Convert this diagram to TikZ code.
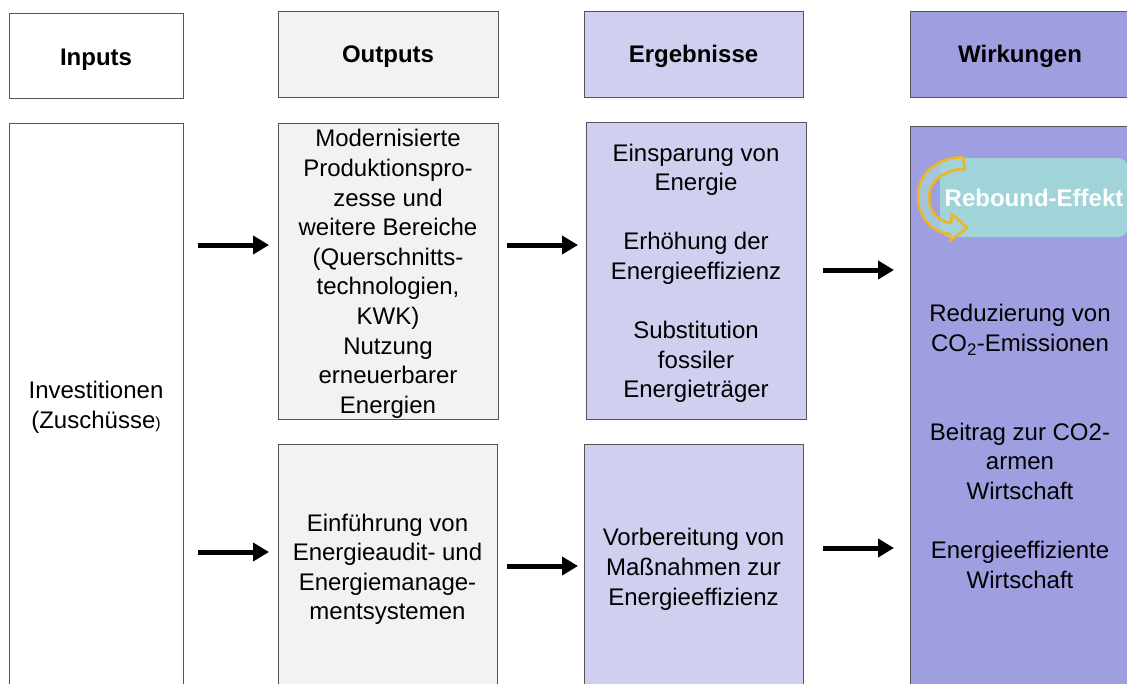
\documentclass[tikz,border=0pt]{standalone}
\usepackage{fontspec}
\setmainfont{Liberation Sans}
\usetikzlibrary{arrows.meta}
\definecolor{outfill}{HTML}{F2F2F2}
\definecolor{ergfill}{HTML}{CFCFF0}
\definecolor{wirkfill}{HTML}{9E9EE0}
\definecolor{rebfill}{HTML}{A0D4D8}
\definecolor{rebarrow}{HTML}{F0B522}
\definecolor{rebinner}{HTML}{A8D2DC}
\definecolor{edge}{HTML}{555555}
\newcommand{\toppad}{\rule{0pt}{23pt}}
\begin{document}
\begin{tikzpicture}[x=1pt,y=-1pt,
  box/.style={draw=edge, line width=0.8pt, inner sep=0pt, align=center,
    font=\fontsize{24}{29.6}\selectfont},
  head/.style={box, font=\fontsize{24}{29}\selectfont\bfseries, text height=19pt, text depth=3pt},
  flow/.style={line width=5pt, -{Triangle[length=16pt,width=18pt]}}]
\useasboundingbox (0,0) rectangle (1127,683);
% headers
\node[head, fill=white, minimum width=174pt, minimum height=85pt, text height=22pt, text depth=2pt] (hin) at (96,55.5) {Inputs};
\node[head, fill=outfill, minimum width=220pt, minimum height=86pt] (hout) at (388,54) {Outputs};
\node[head, fill=ergfill, minimum width=219pt, minimum height=86pt] (herg) at (693.5,54) {Ergebnisse};
\node[head, fill=wirkfill, minimum width=220pt, minimum height=86pt] (hwirk) at (1020,54) {Wirkungen};
% bodies
\node[box, fill=white, minimum width=174pt, minimum height=563pt] (inp) at (96,404.5)
  {\toppad Investitionen\\(Zuschüsse{\fontsize{16}{16}\selectfont)}};
\node[box, fill=outfill, minimum width=220pt, minimum height=296pt] (out1) at (388,271)
  {\toppad Modernisierte\\Produktionspro-\\zesse und\\weitere Bereiche\\(Querschnitts-\\technologien,\\KWK)\\Nutzung\\erneuerbarer\\Energien};
\node[box, fill=outfill, minimum width=219pt, minimum height=245pt] (out2) at (387.5,566.5)
  {\toppad Einführung von\\Energieaudit- und\\Energiemanage-\\mentsystemen};
\node[box, fill=ergfill, minimum width=220pt, minimum height=297pt] (erg1) at (696,270.5)
  {\toppad Einsparung von\\Energie\\[29.6pt]Erhöhung der\\Energieeffizienz\\[29.6pt]Substitution\\fossiler\\Energieträger};
\node[box, fill=ergfill, minimum width=219pt, minimum height=245pt] (erg2) at (693.5,566.5)
  {\toppad Vorbereitung von\\Maßnahmen zur\\Energieeffizienz};
\node[box, fill=wirkfill, minimum width=220pt, minimum height=638pt] (wirk) at (1020,445)
  {\rule{0pt}{20pt}Reduzierung von\\CO\textsubscript{2}-Emissionen\\[59.2pt]Beitrag zur CO2-\\armen\\Wirtschaft\\[29.6pt]Energieeffiziente\\Wirtschaft};
% rebound
\node[fill=rebfill, rounded corners=10pt, minimum width=188pt, minimum height=79pt, inner sep=0pt,
  text=white, font=\fontsize{24}{29}\selectfont\bfseries] (reb) at (1034,197.5) {Rebound-Effekt};
\draw[rebarrow, line width=2.5pt, fill=rebinner, fill opacity=0.75, line join=round]
  (963,157) .. controls (933,158) and (918,176) .. (918,196)
  .. controls (918,218) and (933,233) .. (950,234)
  -- (950,241) -- (967,228) -- (952,214) -- (951,223)
  .. controls (938,222) and (929,211) .. (929,197)
  .. controls (929,182) and (942,170) .. (965,169) -- cycle;
% arrows
\coordinate (a1s) at (198,245); \coordinate (a1e) at (269,245);
\coordinate (a2s) at (507,245); \coordinate (a2e) at (578,245);
\coordinate (a3s) at (823,270); \coordinate (a3e) at (894,270);
\coordinate (b1s) at (198,552); \coordinate (b1e) at (269,552);
\coordinate (b2s) at (507,566); \coordinate (b2e) at (578,566);
\coordinate (b3s) at (823,548); \coordinate (b3e) at (894,548);
\draw[flow] (a1s) -- (a1e);
\draw[flow] (a2s) -- (a2e);
\draw[flow] (a3s) -- (a3e);
\draw[flow] (b1s) -- (b1e);
\draw[flow] (b2s) -- (b2e);
\draw[flow] (b3s) -- (b3e);
\end{tikzpicture}
\end{document}
